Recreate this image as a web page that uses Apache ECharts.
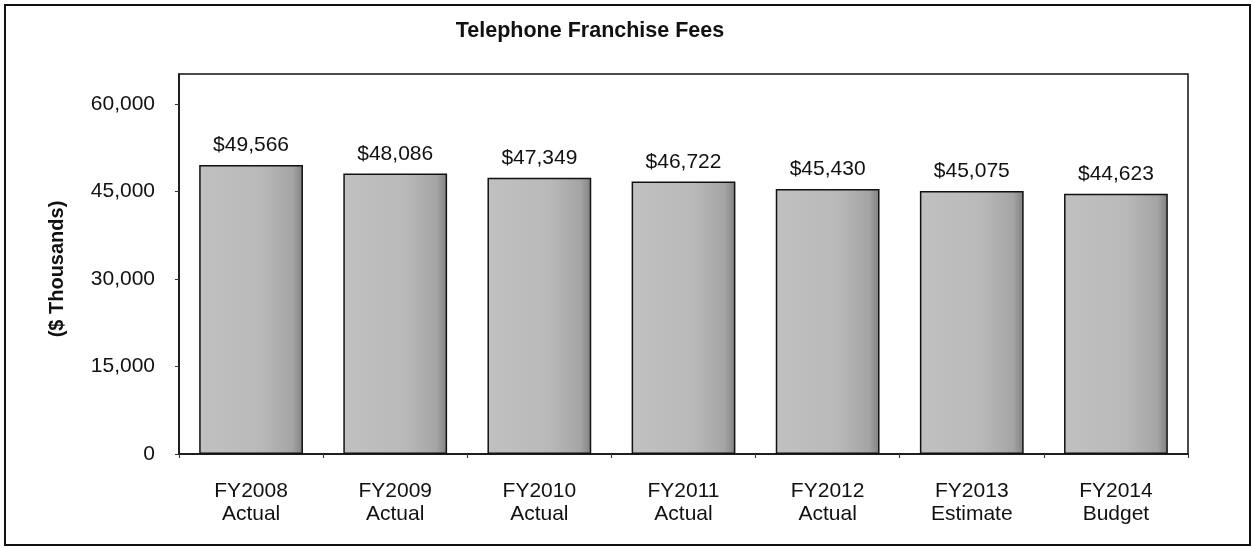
<!DOCTYPE html>
<html>
<head>
<meta charset="utf-8">
<script src="https://cdn.jsdelivr.net/npm/echarts@6/dist/echarts.min.js"></script>
<style>
  html, body { margin: 0; padding: 0; background: #fff; }
  #chart { width: 1252px; height: 548px; }
</style>
</head>
<body>
<div id="chart"></div>
<script>
// data
const categories = ['FY2008\nActual', 'FY2009\nActual', 'FY2010\nActual', 'FY2011\nActual',
                    'FY2012\nActual', 'FY2013\nEstimate', 'FY2014\nBudget'];
const fees = [49566, 48086, 47349, 46722, 45430, 45075, 44623];
const yTicks = [0, 15000, 30000, 45000, 60000];

const chart = echarts.init(document.getElementById('chart'));

const font = 'Liberation Sans, Arial, sans-serif';
const fmt = v => v.toLocaleString('en-US');

const option = {
  animation: false,
  backgroundColor: '#fff',
  textStyle: { fontFamily: font },
  graphic: [
    // outer frame
    { type: 'rect', shape: { x: 5, y: 5, width: 1245, height: 540 },
      style: { fill: 'none', stroke: '#111', lineWidth: 2 } },
    { type: 'text', x: 590, y: 31,
      style: { text: 'Telephone Franchise Fees', font: 'bold 21.5px ' + font,
               fill: '#111', textAlign: 'center', textVerticalAlign: 'middle' } }
  ],
  grid: {
    left: 179, right: 64, top: 74, bottom: 94,
    show: true, borderColor: '#111', borderWidth: 1.5, backgroundColor: '#fff'
  },
  xAxis: {
    type: 'category',
    data: categories,
    axisLine: { lineStyle: { color: '#111', width: 1.5 } },
    axisTick: { show: true, length: 4, lineStyle: { color: '#333' } },
    axisLabel: { color: '#111', fontSize: 21, lineHeight: 23, margin: 26, fontFamily: font }
  },
  yAxis: {
    type: 'value',
    min: 0,
    max: 65150,
    name: '($ Thousands)',
    nameLocation: 'middle',
    nameGap: 112,
    nameMoveOverlap: false,
    nameRotate: 90,
    nameTextStyle: { fontSize: 20, fontWeight: 'bold', color: '#111', fontFamily: font,
                     padding: [0, 10, 0, 0] },
    splitLine: { show: false },
    axisLine: { show: true, lineStyle: { color: '#111', width: 1.5 } },
    axisTick: { show: true, length: 4, customValues: yTicks, lineStyle: { color: '#333' } },
    axisLabel: { color: '#111', fontSize: 21, margin: 24, customValues: yTicks,
                 formatter: v => fmt(v), fontFamily: font }
  },
  series: [{
    type: 'bar',
    data: fees,
    barCategoryGap: '28%',
    itemStyle: {
      color: new echarts.graphic.LinearGradient(0, 0, 1, 0, [
        { offset: 0, color: '#c0c0c0' },
        { offset: 0.6, color: '#b9b9b9' },
        { offset: 0.9, color: '#a4a4a4' },
        { offset: 1, color: '#808080' }
      ]),
      borderColor: '#111',
      borderWidth: 1.5
    },
    label: {
      show: true,
      position: 'top',
      distance: 9,
      color: '#111',
      fontSize: 21,
      fontFamily: font,
      formatter: p => '$' + fmt(p.value)
    }
  }]
};

chart.setOption(option);
</script>
</body>
</html>
